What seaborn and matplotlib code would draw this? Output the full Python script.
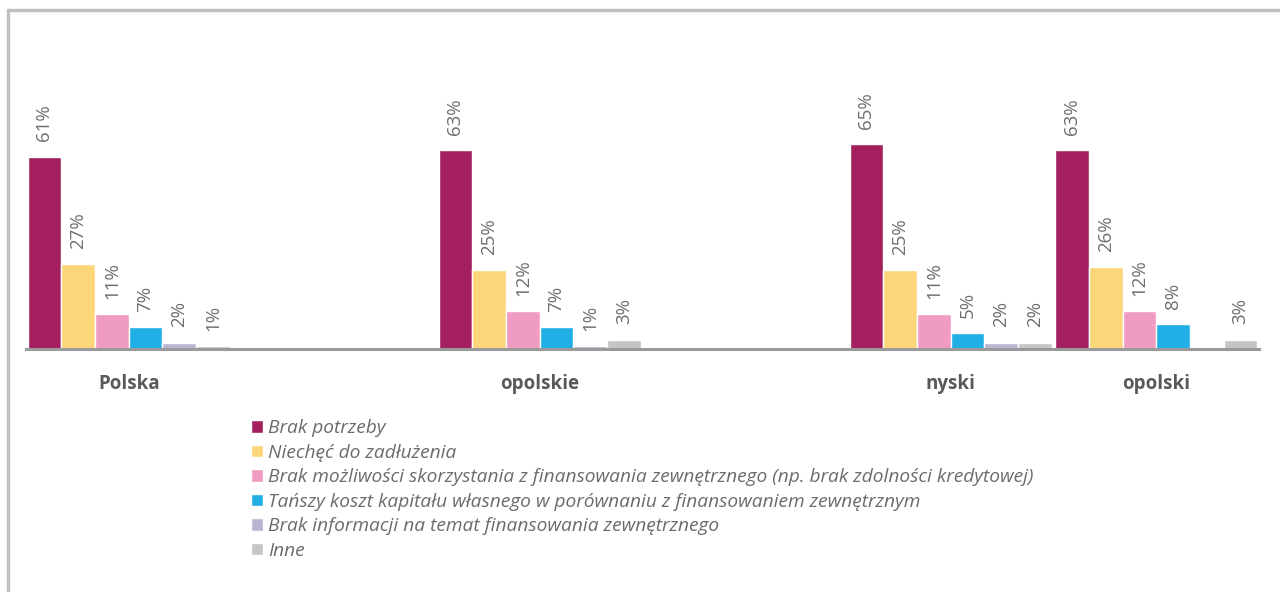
import numpy as np
import pandas as pd
import seaborn as sns
import matplotlib.pyplot as plt
from matplotlib.lines import Line2D

# Dane z wykresu (odsetki odpowiedzi)
regiony = ["Polska", "opolskie", "nyski", "opolski"]
powody = [
    "Brak potrzeby",
    "Niechęć do zadłużenia",
    "Brak możliwości skorzystania z finansowania zewnętrznego (np. brak zdolności kredytowej)",
    "Tańszy koszt kapitału własnego w porównaniu z finansowaniem zewnętrznym",
    "Brak informacji na temat finansowania zewnętrznego",
    "Inne",
]
polska = [61, 27, 11, 7, 2, 1]
opolskie = [63, 25, 12, 7, 1, 3]
nyski = [65, 25, 11, 5, 2, 2]
opolski = [63, 26, 12, 8, np.nan, 3]

# kolejnosc slotow na osi X (puste sloty jak w oryginale)
kolejnosc = ["Polska", "_pusty1", "opolskie", "_pusty2", "nyski", "opolski"]

kolory = ["#A31F5E", "#FCD679", "#F09BC1", "#22AFE5", "#BBB4D0", "#C5C5C5"]

# Tabela w formacie dlugim
rows = []
for reg, vals in zip(regiony, [polska, opolskie, nyski, opolski]):
    for p, v in zip(powody, vals):
        rows.append({"region": reg, "powod": p, "wartosc": v})
df = pd.DataFrame(rows).dropna()

sns.set_style("white")
plt.rcParams["font.family"] = ["Open Sans", "DejaVu Sans"]

fig = plt.figure(figsize=(12.8, 5.92), dpi=100)
ax = fig.add_axes([26 / 1280, 1 - 349 / 592, 1233 / 1280, 312 / 592])

sns.barplot(
    data=df,
    x="region",
    y="wartosc",
    hue="powod",
    order=kolejnosc,
    hue_order=powody,
    palette=kolory,
    width=0.985,
    errorbar=None,
    saturation=1,
    ax=ax,
)

# Etykiety wartosci
for cont in ax.containers:
    ax.bar_label(
        cont,
        labels=[f"{v:.0f}%" for v in cont.datavalues],
        rotation=90,
        padding=11,
        color="#6e6e6e",
        fontsize=13.5,
    )

ax.set_ylim(0, 99)
ax.set_xlim(-0.5, 5.5)
ax.set_xlabel("")
ax.set_ylabel("")
ax.set_yticks([])
ax.set_xticks(range(len(kolejnosc)))
ax.set_xticklabels(["" if k.startswith("_") else k for k in kolejnosc],
                   fontsize=13.5, fontweight="bold", color="#595959")
ax.tick_params(axis="x", length=0, pad=18)

for s in ["top", "right", "left"]:
    ax.spines[s].set_visible(False)
ax.spines["bottom"].set_color("#9a9a9a")
ax.spines["bottom"].set_linewidth(2.2)

# Legenda
handles, labels = ax.get_legend_handles_labels()
ax.get_legend().remove()
fig.legend(
    handles,
    labels,
    loc="upper left",
    bbox_to_anchor=(234 / 1280, 1 - 402 / 592),
    frameon=False,
    handlelength=0.62,
    handleheight=0.62,
    handletextpad=0.28,
    labelspacing=0.34,
    prop={"style": "italic", "size": 13.8},
    labelcolor="#6b6b6b",
)

# Ramka wokol wykresu
fig.add_artist(Line2D([8 / 1280, 1], [1 - 10 / 592, 1 - 10 / 592], color="#c0c0c0", lw=2.5))
fig.add_artist(Line2D([8 / 1280, 8 / 1280], [0, 1 - 10 / 592], color="#c0c0c0", lw=2.5))

fig.savefig("out.png", dpi=100)
